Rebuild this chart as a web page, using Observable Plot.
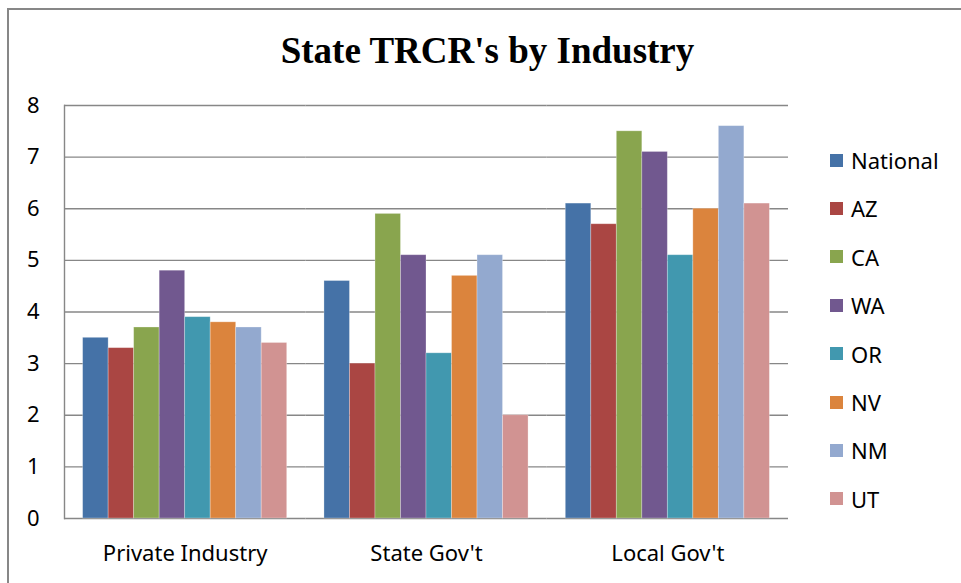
<!DOCTYPE html>
<html>
<head>
<meta charset="utf-8">
<script src="https://cdn.jsdelivr.net/npm/d3@7"></script>
<script src="https://cdn.jsdelivr.net/npm/@observablehq/plot@0.6"></script>
<style>
  html, body { margin: 0; padding: 0; background: #fff; }
  #wrap { position: relative; width: 961px; height: 583px; overflow: hidden; background: #fff; }
  #border { position: absolute; left: 7px; top: 8px; width: 1200px; height: 800px;
            border-left: 2px solid #878787; border-top: 2px solid #878787; }
  #title { position: absolute; left: 0; width: 975px; top: 32px; text-align: center;
           font-family: "Liberation Serif", "Times New Roman", serif; font-weight: bold;
           font-size: 37px; line-height: 1; color: #000; }
  #chart { position: absolute; left: 0; top: 0; }
  #legend { position: absolute; left: 830px; top: 0; font-family: "Noto Sans", sans-serif;
            font-size: 22px; color: #000; }
  .item { position: absolute; left: 0; display: flex; align-items: center; height: 26px; white-space: nowrap; }
  .sw { width: 13px; height: 13px; margin-right: 8px; }
</style>
</head>
<body>
<div id="wrap">
  <div id="border"></div>
  <div id="chart"></div>
  <div id="title">State TRCR's by Industry</div>
  <div id="legend"></div>
</div>
<script>
const categories = ["Private Industry", "State Gov't", "Local Gov't"];
const series = ["National", "AZ", "CA", "WA", "OR", "NV", "NM", "UT"];
const colors = ["#4572A7", "#AA4643", "#89A54E", "#71588F", "#4198AF", "#DB843D", "#93A9CF", "#D19392"];
const privateIndustry = [3.5, 3.3, 3.7, 4.8, 3.9, 3.8, 3.7, 3.4];
const stateGov = [4.6, 3.0, 5.9, 5.1, 3.2, 4.7, 5.1, 2.0];
const localGov = [6.1, 5.7, 7.5, 7.1, 5.1, 6.0, 7.6, 6.1];
const yTicks = [0, 1, 2, 3, 4, 5, 6, 7, 8];

const valuesByCategory = [privateIndustry, stateGov, localGov];
const data = [];
categories.forEach((c, ci) => {
  series.forEach((s, si) => {
    data.push({category: c, series: s, value: valuesByCategory[ci][si]});
  });
});

const gridColor = "#878787";
const chart = Plot.plot({
  width: 961,
  height: 583,
  marginLeft: 64,
  marginRight: 173,
  marginTop: 105,
  marginBottom: 65,
  style: {fontFamily: "Noto Sans, sans-serif", fontSize: "22px", color: "#000", background: "transparent", overflow: "visible"},
  fx: {domain: categories, padding: 0, round: false, label: null, axis: "bottom", tickSize: 0, tickPadding: 27},
  x: {domain: series, paddingInner: 0, paddingOuter: 0.73, round: false, axis: null},
  y: {domain: [0, 8], ticks: yTicks, tickSize: 0, tickPadding: 25, label: null, tickFormat: d3.format("d")},
  color: {domain: series, range: colors},
  marks: [
    Plot.ruleY(yTicks, {stroke: gridColor, strokeWidth: 1.4}),
    Plot.barY(data, {fx: "category", x: "series", y: "value", fill: "series", stroke: "#fff", strokeOpacity: 0.35, strokeWidth: 0.8}),
    Plot.frame({anchor: "left", fx: () => categories[0], stroke: gridColor, strokeWidth: 1.4})
  ]
});
document.getElementById("chart").appendChild(chart);

const legend = document.getElementById("legend");
series.forEach((s, i) => {
  const item = document.createElement("div");
  item.className = "item";
  item.style.top = (160 - 13 + i * 48.4) + "px";
  const sw = document.createElement("div");
  sw.className = "sw";
  sw.style.background = colors[i];
  const t = document.createElement("span");
  t.textContent = s;
  item.appendChild(sw);
  item.appendChild(t);
  legend.appendChild(item);
});
</script>
</body>
</html>
